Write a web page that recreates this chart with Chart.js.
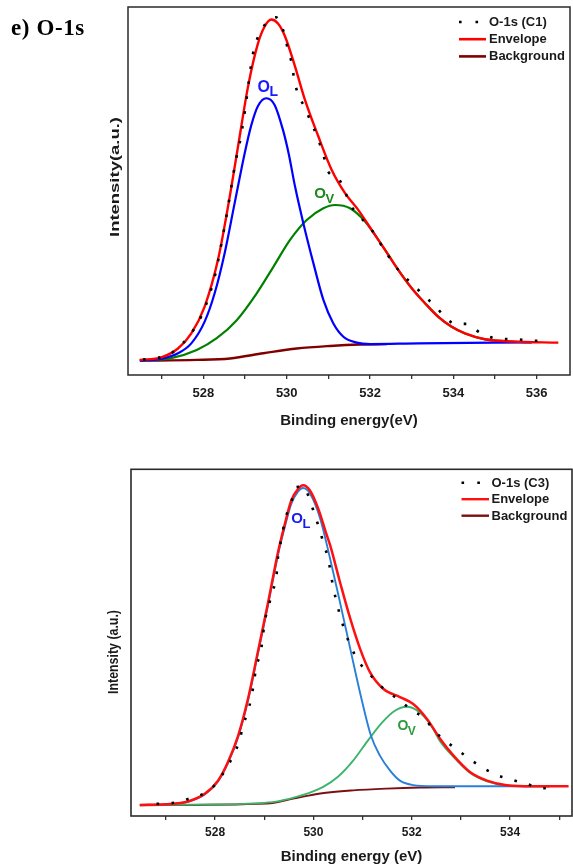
<!DOCTYPE html>
<html>
<head>
<meta charset="utf-8">
<script src="https://cdn.jsdelivr.net/npm/chart.js@4.4.1/dist/chart.umd.min.js"></script>
<style>
  html, body { margin: 0; padding: 0; background: #fff; width: 573px; height: 868px; overflow: hidden; }
  #panel { position: relative; width: 573px; height: 868px; }
  canvas { position: absolute; left: 0; }
  #c1 { top: 0; }
  #c3 { top: 440px; }
  #tag { position: absolute; left: 11px; top: 16px; font: bold 23px/23px "Liberation Serif", "Times New Roman", serif; letter-spacing: 0.6px; color: #000; white-space: nowrap; }
</style>
</head>
<body>
<div id="panel">
  <canvas id="c1" width="573" height="440"></canvas>
  <canvas id="c3" width="573" height="428"></canvas>
  <div id="tag">e) O-1s</div>
</div>
<script>
// ---------- Sample C1 : O-1s spectrum and fit components ----------
const c1MeasuredEv  = [526.55, 526.85, 527.16, 527.42, 527.70, 527.95, 528.15, 528.29, 528.37, 528.55, 528.78, 528.87, 529.00, 529.15, 529.22, 529.35, 529.50, 529.74, 529.95, 530.03, 530.13, 530.18, 530.48, 530.76, 530.88, 531.00, 531.24, 531.56, 531.80, 532.04, 532.40, 532.72, 533.08, 533.32, 533.56, 533.80, 534.04, 534.31, 534.64, 535.00, 535.52, 535.90, 536.24];
const c1MeasuredInt = [4.2, 4.6, 5.4, 7.7, 11.2, 16.0, 22.0, 27.6, 32.0, 43.0, 58.4, 63.0, 72.0, 84.7, 88.8, 92.8, 95.5, 97.2, 92.4, 88.3, 84.2, 80.2, 71.5, 63.9, 59.8, 55.2, 53.4, 45.7, 42.5, 39.4, 33.0, 28.0, 24.0, 21.3, 18.8, 15.8, 13.9, 13.9, 11.5, 10.0, 9.7, 9.3, 9.3];

const c1EnvelopeEv  = [526.47, 526.99, 527.39, 527.71, 528.03, 528.35, 528.59, 528.83, 529.07, 529.31, 529.47, 529.63, 529.79, 529.96, 530.20, 530.44, 530.76, 531.08, 531.40, 531.72, 532.04, 532.36, 532.68, 533.00, 533.32, 533.64, 533.96, 534.28, 534.76, 535.40, 536.52];
const c1EnvelopeInt = [4.1, 4.8, 7.2, 11.3, 18.6, 31.3, 45.7, 62.0, 78.3, 90.1, 94.7, 96.6, 95.5, 92.0, 83.8, 74.7, 64.8, 55.7, 49.4, 44.8, 39.4, 34.0, 28.5, 23.6, 19.5, 15.8, 13.1, 11.3, 9.7, 9.1, 8.8];

const c1LatticeEv  = [526.47, 526.99, 527.39, 527.71, 528.03, 528.27, 528.51, 528.75, 528.99, 529.15, 529.31, 529.51, 529.71, 529.91, 530.05, 530.20, 530.40, 530.64, 530.88, 531.12, 531.36, 531.68, 532.00, 533.16, 535.88];
const c1LatticeInt = [3.9, 4.4, 5.9, 8.6, 14.5, 22.2, 33.1, 46.7, 60.2, 67.9, 73.1, 75.2, 73.4, 66.6, 60.0, 51.2, 41.2, 30.4, 20.4, 14.0, 10.4, 8.8, 8.4, 8.6, 8.85];

const c1VacancyEv  = [526.48, 527.20, 527.84, 528.32, 528.80, 529.28, 529.68, 530.08, 530.48, 530.88, 531.16, 531.52, 531.88, 532.36, 532.68, 533.00, 533.32, 533.64, 533.96, 534.28, 534.76, 535.40, 535.88];
const c1VacancyInt = [3.9, 4.5, 6.8, 10.0, 14.9, 22.2, 29.4, 36.7, 42.1, 45.3, 46.2, 45.3, 41.7, 34.0, 28.5, 23.6, 19.5, 15.8, 13.1, 11.3, 9.7, 9.1, 8.9];

const c1BackgroundEv  = [526.48, 527.84, 528.64, 529.44, 530.24, 531.04, 531.76, 532.40];
const c1BackgroundInt = [3.9, 4.1, 4.5, 5.9, 7.2, 7.9, 8.3, 8.4];

// ---------- Sample C3 : O-1s spectrum and fit components ----------
const c3MeasuredEv  = [526.81, 527.15, 527.45, 527.76, 528.00, 528.20, 528.37, 528.50, 528.57, 528.66, 528.74, 528.79, 528.84, 528.93, 528.97, 529.01, 529.09, 529.16, 529.25, 529.27, 529.32, 529.38, 529.45, 529.55, 529.65, 529.80, 529.93, 530.03, 530.12, 530.22, 530.30, 530.41, 530.66, 530.93, 531.14, 531.34, 531.55, 531.78, 532.02, 532.27, 532.47, 532.70, 532.95, 533.22, 533.46, 533.73, 534.03, 534.35, 534.66, 534.96];
const c3MeasuredInt = [3.5, 3.8, 4.9, 6.4, 9.0, 13.1, 17.4, 22.0, 26.1, 29.9, 34.3, 38.6, 43.2, 47.3, 51.6, 56.1, 60.5, 64.6, 69.4, 73.4, 77.9, 82.4, 86.7, 90.6, 94.9, 95.0, 91.0, 86.7, 82.9, 78.0, 74.2, 65.5, 52.5, 44.4, 41.0, 37.8, 35.5, 33.0, 30.4, 28.0, 24.4, 21.5, 18.9, 16.0, 13.8, 11.8, 10.5, 9.2, 8.0, 8.9];

const c3EnvelopeEv  = [526.47, 527.00, 527.45, 527.79, 528.06, 528.26, 528.47, 528.67, 528.87, 529.08, 529.28, 529.42, 529.55, 529.69, 529.79, 529.93, 530.10, 530.26, 530.34, 530.54, 530.75, 530.95, 531.15, 531.42, 531.76, 532.03, 532.31, 532.58, 532.85, 533.19, 533.53, 533.93, 534.47, 535.19];
const c3EnvelopeInt = [3.2, 3.4, 4.2, 6.4, 10.2, 15.5, 23.2, 33.8, 47.3, 61.7, 76.1, 84.3, 91.0, 94.4, 95.4, 93.9, 88.6, 81.5, 78.1, 67.5, 56.9, 48.2, 41.5, 36.7, 34.3, 32.3, 28.0, 22.2, 17.4, 12.6, 10.2, 8.9, 8.6, 8.6];

const c3LatticeEv  = [526.47, 527.00, 527.45, 527.79, 528.06, 528.26, 528.47, 528.67, 528.87, 529.08, 529.28, 529.42, 529.55, 529.69, 529.79, 529.93, 530.14, 530.34, 530.54, 530.75, 530.95, 531.17, 531.35, 531.56, 531.76, 532.03, 532.44, 534.80];
const c3LatticeInt = [3.2, 3.4, 4.1, 6.2, 10.0, 15.2, 22.8, 33.3, 46.7, 61.0, 75.3, 83.4, 90.0, 93.6, 94.6, 93.0, 85.7, 74.2, 61.7, 48.2, 35.5, 23.2, 17.5, 13.1, 10.2, 8.9, 8.6, 8.6];

const c3VacancyEv  = [526.47, 528.00, 528.60, 529.00, 529.30, 529.60, 529.90, 530.20, 530.50, 530.80, 531.10, 531.40, 531.65, 531.90, 532.15, 532.40, 532.58, 532.85, 533.19, 533.53, 533.93, 534.47, 534.80];
const c3VacancyInt = [3.2, 3.3, 3.5, 3.8, 4.3, 5.3, 6.6, 8.4, 11.3, 15.8, 21.6, 27.0, 30.3, 31.5, 30.0, 26.0, 21.5, 17.0, 12.4, 10.0, 8.8, 8.6, 8.6];

const c3BackgroundEv  = [526.47, 529.05, 529.59, 530.14, 530.81, 531.49, 532.17, 532.88];
const c3BackgroundInt = [3.1, 3.6, 5.0, 6.5, 7.4, 7.9, 8.2, 8.3];

const xTickStep = 1;

// ---------- helpers ----------
const pts = (ev, val) => ev.map((e, i) => ({ x: e, y: val[i] }));
const SANS = 'Arial, "Liberation Sans", Helvetica, sans-serif';

// frame, peak tags, legend and the vertical axis caption
const decor = {
  id: 'decor',
  afterDatasetsDraw(chart, args, o) {
    const { ctx, chartArea: a, scales: { x, y } } = chart;
    ctx.save();
    ctx.strokeStyle = o.frameColor;
    ctx.lineWidth = o.frameWidth;
    ctx.strokeRect(a.left, a.top, a.right - a.left, a.bottom - a.top);

    ctx.textAlign = 'left';
    ctx.textBaseline = 'alphabetic';
    for (const p of o.peaks) {
      const px = x.getPixelForValue(p.ev);
      const py = y.getPixelForValue(p.level);
      ctx.fillStyle = p.color;
      ctx.font = `bold ${p.size}px ${SANS}`;
      ctx.fillText(p.main, px, py);
      const w = ctx.measureText(p.main).width;
      ctx.font = `bold ${p.subSize}px ${SANS}`;
      ctx.fillText(p.sub, px + w - 0.5, py + p.subDrop);
    }
    ctx.restore();
  },
  afterDraw(chart, args, o) {
    const { ctx } = chart;
    ctx.save();
    // legend
    const L = o.legend;
    o.legendItems.forEach((it, i) => {
      const yy = L.top + i * L.gap;
      ctx.beginPath();
      ctx.strokeStyle = it.color;
      ctx.lineWidth = it.width;
      ctx.lineCap = 'butt';
      ctx.setLineDash(it.dash || []);
      ctx.moveTo(L.left, yy);
      ctx.lineTo(L.left + L.sample, yy);
      ctx.stroke();
      ctx.setLineDash([]);
      ctx.fillStyle = o.textColor;
      ctx.font = `bold ${L.size}px ${SANS}`;
      ctx.textAlign = 'left';
      ctx.textBaseline = 'middle';
      ctx.fillText(it.text, L.left + L.sample + L.textGap, yy + 0.5);
    });
    // vertical caption
    const T = o.yTitle;
    ctx.translate(T.x, T.y);
    ctx.rotate(-Math.PI / 2);
    ctx.font = `bold ${T.size}px ${SANS}`;
    const natural = ctx.measureText(T.text).width;
    ctx.scale(T.length / natural, 1);
    ctx.fillStyle = o.textColor;
    ctx.textAlign = 'center';
    ctx.textBaseline = 'middle';
    ctx.fillText(T.text, 0, 0);
    ctx.restore();
  }
};

function lineSet(label, ev, val, color, width, order, dash) {
  return {
    label, data: pts(ev, val), borderColor: color, backgroundColor: color,
    borderWidth: width, borderDash: dash || [], pointRadius: 0, pointHoverRadius: 0,
    fill: false, cubicInterpolationMode: 'monotone', order, borderCapStyle: 'butt'
  };
}

function build(canvasId, cfg) {
  return new Chart(document.getElementById(canvasId), {
    type: 'line',
    data: { datasets: cfg.datasets },
    options: {
      responsive: false,
      animation: false,
      devicePixelRatio: 1,
      events: [],
      layout: { padding: cfg.padding },
      plugins: {
        legend: { display: false },
        tooltip: { enabled: false },
        decor: cfg.decor
      },
      scales: {
        x: {
          type: 'linear', min: cfg.xMin, max: cfg.xMax,
          afterFit: s => { s.height = cfg.xHeight; },
          border: { display: false },
          grid: { display: true, drawOnChartArea: false, drawTicks: true, tickLength: 4, color: '#333', lineWidth: 1.3 },
          ticks: {
            stepSize: xTickStep, includeBounds: false, autoSkip: false, maxRotation: 0, minRotation: 0,
            padding: cfg.tickPad, color: '#1a1a1a', font: { family: SANS, size: cfg.tickSize, weight: 'bold' },
            callback: v => (Math.round(v) % 2 === 0 ? String(Math.round(v)) : '')
          },
          title: {
            display: true, text: cfg.xTitle, color: '#1a1a1a',
            font: { family: SANS, size: 15, weight: 'bold' },
            padding: { top: 0, bottom: cfg.titlePad }
          }
        },
        y: { display: false, min: 0, max: 100 }
      }
    },
    plugins: [decor]
  });
}

// ---------- upper panel: C1 ----------
build('c1', {
  xMin: 526.19, xMax: 536.80, xHeight: 60, tickPad: 6.5, tickSize: 13, titlePad: 5,
  xTitle: 'Binding energy(eV)',
  padding: { left: 128, right: 3, top: 7, bottom: 5 },
  datasets: [
    lineSet('O-1s (C1)', c1MeasuredEv, c1MeasuredInt, '#000000', 2.6, 1, [2.6, 12.4]),
    lineSet('Envelope', c1EnvelopeEv, c1EnvelopeInt, '#ff0000', 2.4, 2),
    lineSet('OL', c1LatticeEv, c1LatticeInt, '#0000ff', 2.2, 3),
    lineSet('OV', c1VacancyEv, c1VacancyInt, '#008000', 2.2, 4),
    lineSet('Background', c1BackgroundEv, c1BackgroundInt, '#800000', 2.4, 5)
  ],
  decor: {
    frameColor: '#2a2a2a', frameWidth: 1.5, textColor: '#1a1a1a',
    peaks: [
      { main: 'O', sub: 'L', ev: 529.30, level: 77.0, color: '#1a1aff', size: 16, subSize: 14, subDrop: 4.5 },
      { main: 'O', sub: 'V', ev: 530.66, level: 48.0, color: '#1a8a1a', size: 15, subSize: 13, subDrop: 5 }
    ],
    legend: { left: 459, top: 22, gap: 17.2, sample: 27, textGap: 3, size: 13 },
    legendItems: [
      { text: 'O-1s (C1)', color: '#000', width: 2.6, dash: [2.6, 13.9] },
      { text: 'Envelope', color: '#ff0000', width: 2.6 },
      { text: 'Background', color: '#800000', width: 2.6 }
    ],
    yTitle: { text: 'Intensity(a.u.)', x: 115, y: 177, size: 13, length: 120 }
  }
});

// ---------- lower panel: C3 ----------
build('c3', {
  xMin: 526.29, xMax: 535.26, xHeight: 50, tickPad: 5.8, tickSize: 12, titlePad: 0,
  xTitle: 'Binding energy (eV)',
  padding: { left: 131, right: 1, top: 29.3, bottom: 2 },
  datasets: [
    lineSet('O-1s (C3)', c3MeasuredEv, c3MeasuredInt, '#000000', 2.6, 1, [2.6, 12.4]),
    lineSet('Envelope', c3EnvelopeEv, c3EnvelopeInt, '#ff1010', 2.5, 2),
    lineSet('OL', c3LatticeEv, c3LatticeInt, '#2a7fd8', 1.9, 3),
    lineSet('OV', c3VacancyEv, c3VacancyInt, '#3cb46e', 1.9, 4),
    lineSet('Background', c3BackgroundEv, c3BackgroundInt, '#7a1010', 1.9, 5)
  ],
  decor: {
    frameColor: '#2a2a2a', frameWidth: 1.6, textColor: '#1a1a1a',
    peaks: [
      { main: 'O', sub: 'L', ev: 529.55, level: 84.6, color: '#1a1aee', size: 15, subSize: 13, subDrop: 5 },
      { main: 'O', sub: 'V', ev: 531.71, level: 24.7, color: '#2e9a3e', size: 14, subSize: 12, subDrop: 5 }
    ],
    legend: { left: 461.5, top: 42.7, gap: 16.5, sample: 27.5, textGap: 2.5, size: 13 },
    legendItems: [
      { text: 'O-1s (C3)', color: '#000', width: 2.6, dash: [2.6, 13.2] },
      { text: 'Envelope', color: '#ff1010', width: 2.4 },
      { text: 'Background', color: '#7a1010', width: 2.4 }
    ],
    yTitle: { text: 'Intensity (a.u.)', x: 114, y: 212, size: 14, length: 84 }
  }
});
</script>
</body>
</html>
